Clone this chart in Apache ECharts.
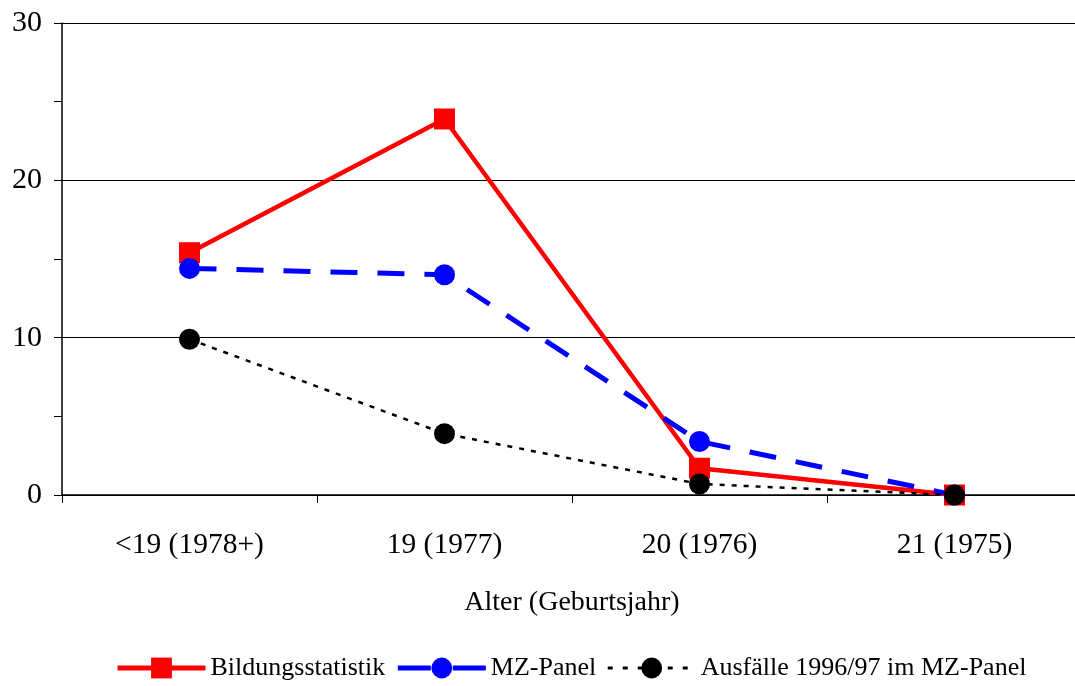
<!DOCTYPE html>
<html>
<head>
<meta charset="utf-8">
<script src="https://cdn.jsdelivr.net/npm/echarts@6/dist/echarts.min.js"></script>
<style>
  html, body { margin: 0; padding: 0; background: #fff; overflow: hidden; }
  #chart { width: 1083px; height: 686px; }
</style>
</head>
<body>
<div id="chart"></div>
<script>
// Alter (Geburtsjahr)
const categories = ['<19 (1978+)', '19 (1977)', '20 (1976)', '21 (1975)'];
const bildung = [15.4, 23.9, 1.7, 0.0];
const mzPanel = [14.4, 14.0, 3.4, 0.0];
const ausfaelle = [9.9, 3.9, 0.7, 0.0];

// chart is a bit wider than the window, plot area runs off the right edge
let myChart = echarts.init(document.getElementById('chart'));
let font = 'Liberation Serif';
let option = {
    backgroundColor: '#fff',
    animation: false,
    textStyle: { fontFamily: font, color: '#000' },
    grid: {
        left: 62,
        top: 23,
        right: 1,
        bottom: 191
    },
    xAxis: {
        type: 'category',
        data: categories,
        name: 'Alter (Geburtsjahr)',
        nameLocation: 'middle',
        nameGap: 94,
        nameTextStyle: { fontSize: 28, fontFamily: font, color: '#000' },
        axisLine: { lineStyle: { color: '#000', width: 1.5 } },
        axisTick: { show: true, length: 8, lineStyle: { color: '#000' } },
        axisLabel: { fontSize: 29.5, margin: 35, color: '#000', fontFamily: font }
    },
    yAxis: {
        type: 'value',
        min: 0,
        max: 30,
        interval: 10,
        axisLine: { show: true, lineStyle: { color: '#000', width: 1.5 } },
        axisTick: { show: true, length: 8, lineStyle: { color: '#000' } },
        minorTick: { show: true, splitNumber: 2, length: 8, lineStyle: { color: '#000' } },
        axisLabel: { fontSize: 30, margin: 20, color: '#000', fontFamily: font },
        splitLine: { lineStyle: { color: '#000', width: 1 } }
    },
    legend: {
        bottom: 0,
        left: 110,
        itemWidth: 88,
        itemHeight: 26,
        itemGap: 10,
        textStyle: { fontSize: 26, fontFamily: font, color: '#000' },
        data: [
            { name: 'Bildungsstatistik', lineStyle: { width: 5 } },
            { name: 'MZ-Panel', lineStyle: { width: 5, type: [33, 22] } },
            { name: 'Ausfälle 1996/97 im MZ-Panel', lineStyle: { width: 3, type: [5, 10] } }
        ]
    },
    series: [{
        name: 'Bildungsstatistik',
        type: 'line',
        data: bildung,
        symbol: 'rect',
        symbolSize: 21,
        color: '#ff0000',
        lineStyle: { width: 4.5, color: '#ff0000' }
    }, {
        name: 'MZ-Panel',
        type: 'line',
        data: mzPanel,
        symbol: 'circle',
        symbolSize: 21,
        color: '#0000ff',
        lineStyle: { width: 5, color: '#0000ff', type: [27, 20] }
    }, {
        name: 'Ausfälle 1996/97 im MZ-Panel',
        type: 'line',
        data: ausfaelle,
        symbol: 'circle',
        symbolSize: 21,
        color: '#000',
        lineStyle: { width: 2.5, color: '#000', type: [5, 7] }
    }]
};
myChart.setOption(option);
</script>
</body>
</html>
